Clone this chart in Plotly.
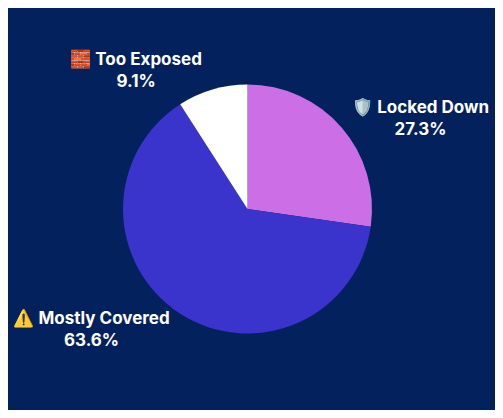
import plotly.graph_objects as go

labels = ["🛡️ Locked Down", "⚠️ Mostly Covered", "🧱 Too Exposed"]
values = [3, 7, 1]
colors = ["#cc6ee6", "#3a33cc", "#ffffff"]

fig = go.Figure(go.Pie(
    labels=labels,
    values=values,
    sort=False,
    direction="clockwise",
    rotation=0,
    marker=dict(colors=colors),
    textinfo="label+percent",
    texttemplate="<b>%{label}</b><br><b>%{percent:.1%}</b>",
    textposition="outside",
    outsidetextfont=dict(color="white", size=17),
    showlegend=False,
    hoverinfo="label+percent",
))

fig.update_layout(
    autosize=True,
    paper_bgcolor="#03215c",
    plot_bgcolor="#03215c",
    font=dict(family="Inter, Roboto, sans-serif", color="white"),
    margin=dict(l=60, r=70, t=70, b=70),
)

fig.write_html("out.html", config={"responsive": True}, default_width="100%", default_height="100%")
